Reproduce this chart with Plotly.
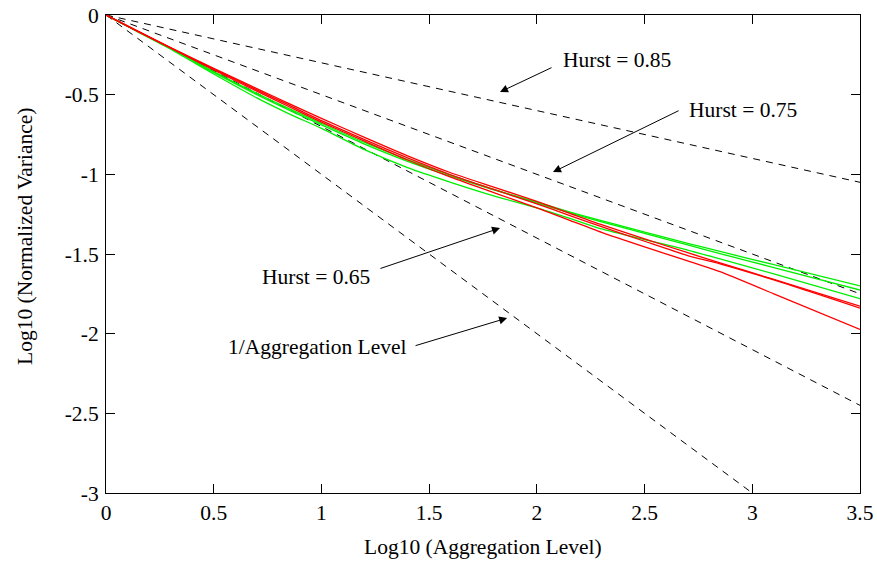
import plotly.graph_objects as go

# Measured curves (log10 aggregation level vs log10 normalized variance)
x_pts = [0, 0.15, 0.3, 0.5, 0.7, 0.85, 1.0, 1.2, 1.4, 1.6, 1.8, 2.0, 2.15, 2.3, 2.5, 2.7, 2.85, 3.1, 3.5]
red_1 = [0, -0.103, -0.204, -0.335, -0.462, -0.556, -0.649, -0.768, -0.884, -0.990, -1.080, -1.170,
         -1.243, -1.316, -1.405, -1.492, -1.555, -1.660, -1.827]
red_2 = [0, -0.104, -0.206, -0.340, -0.470, -0.566, -0.663, -0.782, -0.897, -1.003, -1.095, -1.185,
         -1.257, -1.328, -1.420, -1.510, -1.562, -1.663, -1.840]
red_3 = [0, -0.104, -0.207, -0.345, -0.478, -0.576, -0.672, -0.792, -0.910, -1.018, -1.115, -1.210,
         -1.287, -1.364, -1.455, -1.543, -1.611, -1.750, -1.973]
green_1 = [0, -0.108, -0.215, -0.370, -0.520, -0.620, -0.711, -0.845, -0.958, -1.050, -1.135, -1.210,
           -1.275, -1.343, -1.410, -1.475, -1.531, -1.625, -1.780]
green_2 = [0, -0.105, -0.210, -0.360, -0.500, -0.597, -0.690, -0.810, -0.918, -1.012, -1.097, -1.175,
           -1.235, -1.291, -1.362, -1.433, -1.484, -1.567, -1.700]
green_3 = [0, -0.105, -0.208, -0.355, -0.492, -0.588, -0.680, -0.800, -0.908, -1.005, -1.095, -1.180,
           -1.240, -1.298, -1.370, -1.443, -1.497, -1.585, -1.726]

# Reference lines (endpoints)
ref_x = [[0, 3.5], [0, 3.5], [0, 3.5], [0, 3.0]]
ref_y = [[0, -1.05], [0, -1.75], [0, -2.45], [0, -3.0]]

# Labels
labels = ["Hurst = 0.85", "Hurst = 0.75", "Hurst = 0.65", "1/Aggregation Level"]
label_x = [2.372, 2.957, 0.975, 0.984]
label_y = [-0.282, -0.596, -1.645, -2.084]
arrow_tail_x = [2.075, 2.665, 1.267, 1.430]
arrow_tail_y = [-0.326, -0.596, -1.594, -2.078]
arrow_head_x = [1.829, 2.075, 1.829, 1.862]
arrow_head_y = [-0.483, -0.986, -1.337, -1.902]

x_ticks = [0, 0.5, 1, 1.5, 2, 2.5, 3, 3.5]
x_tick_text = ["0", "0.5", "1", "1.5", "2", "2.5", "3", "3.5"]
y_ticks = [0, -0.5, -1, -1.5, -2, -2.5, -3]
y_tick_text = ["0", "-0.5", "-1", "-1.5", "-2", "-2.5", "-3"]

FONT = "Liberation Serif, Times New Roman, serif"
FS = 21.5
L, R, T, B = 106, 17, 15, 74
W, H = 877, 567
PW, PH = W - L - R, H - T - B

fig = go.Figure()
for rx, ry in zip(ref_x, ref_y):
    fig.add_trace(go.Scatter(x=rx, y=ry, mode="lines",
                             line=dict(color="black", width=1, dash="7px,6px"),
                             showlegend=False, hoverinfo="skip"))
for ys in [green_1, green_2, green_3]:
    fig.add_trace(go.Scatter(x=x_pts, y=ys, mode="lines",
                             line=dict(color="#00ee00", width=1.3, shape="spline", smoothing=0.6),
                             showlegend=False))
for ys in [red_1, red_2, red_3]:
    fig.add_trace(go.Scatter(x=x_pts, y=ys, mode="lines",
                             line=dict(color="#ff0000", width=1.3, shape="spline", smoothing=0.6),
                             showlegend=False))

annotations = []
for t, lx, ly in zip(labels, label_x, label_y):
    annotations.append(dict(x=lx, y=ly, xref="x", yref="y", text=t, showarrow=False,
                            font=dict(family=FONT, size=FS, color="black")))
for tx, ty, hx, hy in zip(arrow_tail_x, arrow_tail_y, arrow_head_x, arrow_head_y):
    annotations.append(dict(x=hx, y=hy, ax=tx, ay=ty, xref="x", yref="y",
                            axref="x", ayref="y", text="", showarrow=True,
                            arrowhead=2, arrowsize=1.6, arrowwidth=1, arrowcolor="black"))
annotations.append(dict(x=(25 - L) / PW, y=(H - B - 236) / PH, xref="paper", yref="paper",
                        text="Log10 (Normalized Variance)", showarrow=False, textangle=-90,
                        xanchor="center", yanchor="middle",
                        font=dict(family=FONT, size=FS, color="black")))
annotations.append(dict(x=(483 - L) / PW, y=(H - B - 547) / PH, xref="paper", yref="paper",
                        text="Log10 (Aggregation Level)", showarrow=False,
                        xanchor="center", yanchor="middle",
                        font=dict(family=FONT, size=FS, color="black")))

fig.update_layout(
    template="none",
    width=W, height=H,
    margin=dict(l=L, r=R, t=T, b=B, pad=0),
    paper_bgcolor="white", plot_bgcolor="white",
    font=dict(family=FONT, size=FS, color="black"),
    annotations=annotations,
    showlegend=False,
)

fig.update_xaxes(range=[0, 3.5], tickvals=x_ticks, ticktext=x_tick_text, automargin=False,
                 ticks="inside", ticklen=9, tickcolor="black", tickwidth=1,
                 showline=True, linecolor="black", linewidth=1, mirror="ticks",
                 showgrid=False, zeroline=False, ticklabelstandoff=0,
                 tickfont=dict(family=FONT, size=FS, color="black"))
fig.update_yaxes(range=[-3, 0], tickvals=y_ticks, ticktext=y_tick_text, automargin=False,
                 ticks="inside", ticklen=9, tickcolor="black", tickwidth=1,
                 showline=True, linecolor="black", linewidth=1, mirror="ticks",
                 showgrid=False, zeroline=False, ticklabelstandoff=2,
                 tickfont=dict(family=FONT, size=FS, color="black"))

fig.write_html("out.html", config={"displayModeBar": False},
               post_script="document.body.style.margin='0';document.body.style.overflow='hidden';")
